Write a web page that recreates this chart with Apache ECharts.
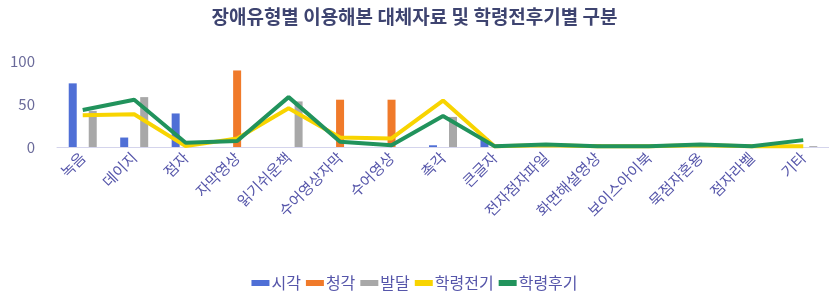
<!DOCTYPE html>
<html>
<head>
<meta charset="utf-8">
<script src="https://cdn.jsdelivr.net/npm/echarts@6/dist/echarts.min.js"></script>
<style>
  html, body { margin: 0; padding: 0; background: #fff; }
  #chart { width: 829px; height: 299px; }
</style>
</head>
<body>
<div id="chart"></div>
<script>
const categories = ["녹음", "데이지", "점자", "자막영상", "읽기쉬운책", "수어영상자막", "수어영상", "촉각", "큰글자", "전자점자파일", "화면해설영상", "보이스아이북", "묵점자혼용", "점자라벨", "기타"];
const visual = [74, 11, 39, 0, 0, 0, 0, 2, 10, 0, 0, 0, 0, 0, 0];
const hearing = [0, 0, 0, 89, 0, 55, 55, 0, 0, 0, 3, 0, 0, 0, 0];
const developmental = [42, 58, 0, 0, 53, 0, 0, 35, 0, 0, 0, 0, 0, 0, 1];
const preschool = [37, 38, 1, 10, 45, 11, 10, 54, 1, 2, 1, 1, 2, 1, 1];
const school = [43, 55, 5, 7, 58, 6, 2, 36, 1, 3, 1, 1, 3, 1, 8];
const yTicks = [0, 50, 100];

const fontFamily = '"Noto Sans CJK KR", "Noto Sans", sans-serif';
const labelColor = "#5656aa";

const chart = echarts.init(document.getElementById("chart"), null, { renderer: "canvas" });

function barSeries(name, data, color) {
  return {
    name, type: "bar", data,
    barWidth: 8, barGap: "25%",
    itemStyle: { color }
  };
}

function lineSeries(name, data, color) {
  return {
    name, type: "line", data,
    symbol: "none",
    lineStyle: { color, width: 4 },
    itemStyle: { color }
  };
}

chart.setOption({
  animation: false,
  textStyle: { fontFamily },
  title: {
    text: "장애유형별 이용해본 대체자료 및 학령전후기별 구분",
    left: "center", top: 2,
    textStyle: { fontSize: 19, fontWeight: "bold", color: "#3e4470", fontFamily }
  },
  legend: {
    bottom: 3, left: "center",
    itemGap: 5, itemWidth: 18, itemHeight: 6,
    textStyle: { fontSize: 16, color: labelColor, fontFamily, padding: [0, 0, 0, -3] },
    data: [
      { name: "시각", icon: "rect" },
      { name: "청각", icon: "rect" },
      { name: "발달", icon: "rect" },
      { name: "학령전기", icon: "rect" },
      { name: "학령후기", icon: "rect" }
    ]
  },
  grid: { left: 57, right: 0, top: 61, height: 86 },
  xAxis: {
    type: "category",
    data: categories,
    axisLine: { lineStyle: { color: "#d4d4ec" } },
    axisTick: { show: false },
    axisLabel: { rotate: 45, interval: 0, fontSize: 15, color: labelColor, margin: 8 }
  },
  yAxis: {
    type: "value",
    min: yTicks[0], max: yTicks[yTicks.length - 1], interval: 50,
    splitLine: { show: false },
    axisLine: { show: false },
    axisTick: { show: false },
    axisLabel: { fontSize: 15, color: "#6a6a9a", margin: 22 }
  },
  series: [
    barSeries("시각", visual, "#4f6fd6"),
    barSeries("청각", hearing, "#f07a2a"),
    barSeries("발달", developmental, "#a8a8a8"),
    lineSeries("학령전기", preschool, "#f8d400"),
    lineSeries("학령후기", school, "#21935c")
  ]
});
</script>
</body>
</html>
